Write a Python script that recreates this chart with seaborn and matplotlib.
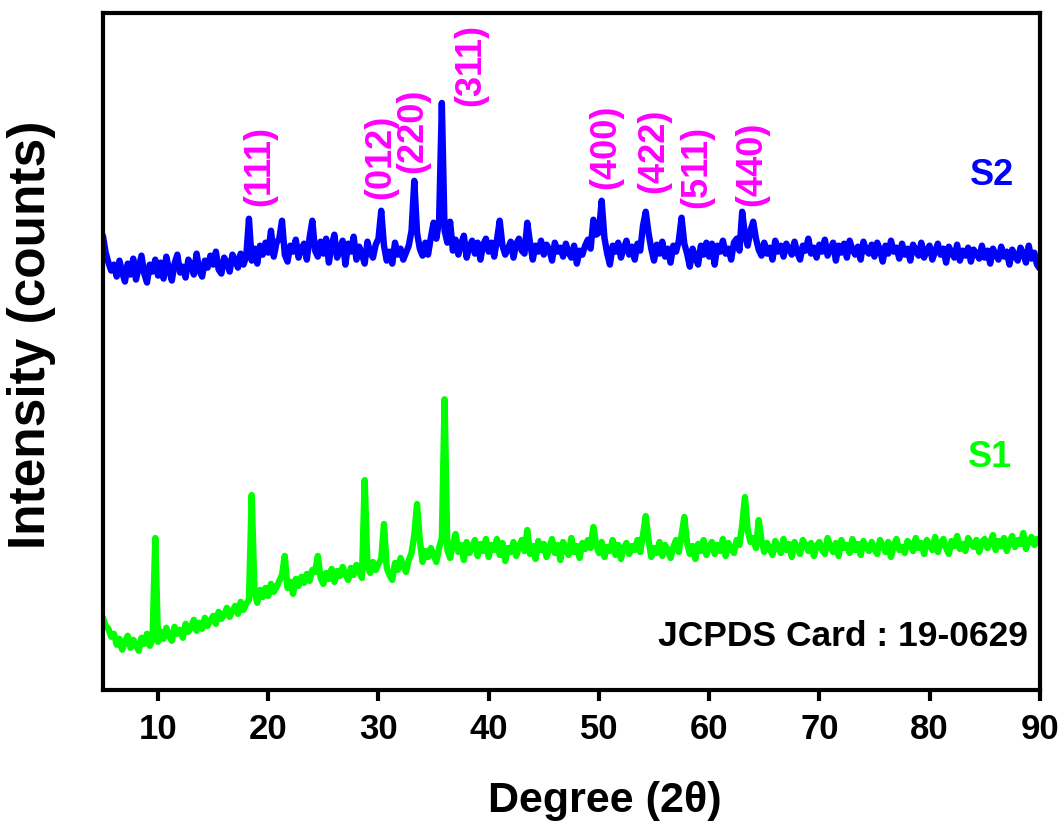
import numpy as np
import pandas as pd
import matplotlib
matplotlib.use("Agg")
import matplotlib.pyplot as plt
import seaborn as sns

# 2-theta scan, 0.25 degree steps from 5 to 90
two_theta = np.arange(5.0, 90.0 + 0.125, 0.25)

# S2 counts, one row per 5 degrees
s2_counts = [
    465, 448, 438, 430, 436, 424, 440, 428, 419, 437, 426, 442, 421, 433, 445, 427, 418, 436, 429, 441,
    425, 438, 422, 444, 431, 420, 437, 446, 428, 434, 423, 441, 436, 426, 447, 430, 424, 440, 433, 445,
    436, 449, 431, 427, 443, 438, 429, 446, 441, 433, 447, 436, 444, 482, 440, 452, 437, 455, 446, 458,
    448, 470, 444, 458, 462, 480, 446, 439, 455, 449, 461, 443, 452, 457, 441, 463, 480, 450, 444, 459,
    447, 462, 438, 455, 466, 443, 451, 460, 436, 457, 449, 464, 441, 454, 446, 437, 459, 448, 443, 456,
    462, 490, 455, 440, 449, 437, 458, 446, 452, 441, 448, 455, 470, 520, 468, 452, 445, 458, 446, 463,
    478, 462, 480, 598, 470, 458, 479, 450, 461, 446, 457, 465, 443, 454, 460, 447, 458, 441, 456, 462,
    449, 458, 444, 461, 480, 455, 446, 452, 459, 443, 457, 462, 450, 447, 478, 458, 441, 455, 449, 460,
    446, 456, 451, 440, 458, 449, 453, 444, 457, 448, 443, 455, 437, 450, 446, 455, 461, 452, 481, 466,
    468, 500, 463, 447, 436, 455, 449, 458, 443, 452, 460, 446, 454, 441, 457, 450, 475, 489, 468, 452,
    440, 456, 447, 459, 444, 452, 438, 455, 449, 460, 483, 457, 447, 434, 452, 443, 436, 455, 446, 458,
    444, 457, 436, 455, 449, 460, 447, 452, 441, 458, 462, 450, 489, 466, 455, 470, 479, 462, 451, 445,
    458, 447, 453, 441, 460, 449, 455, 444, 457, 452, 446, 459, 448, 441, 455, 450, 462, 447, 453, 443,
    456, 449, 461, 445, 452, 458, 440, 455, 448, 457, 443, 460, 451, 446, 454, 441, 459, 450, 447, 456,
    444, 458, 451, 439, 455, 447, 460, 449, 453, 442, 457, 446, 452, 440, 456, 450, 445, 458, 443, 451,
    455, 441, 449, 457, 446, 452, 438, 454, 448, 443, 456, 440, 450, 445, 453, 439, 451, 447, 442, 455,
    443, 450, 437, 452, 446, 441, 454, 444, 449, 436, 451, 445, 440, 453, 447, 438, 455, 442, 448, 436,
    432,
]

# S1 counts, one row per 5 degrees
s1_counts = [
    82, 74, 71, 63, 66, 55, 61, 50, 58, 64, 52, 60, 55, 49, 62, 56, 66, 54, 60, 162,
    58, 68, 61, 72, 64, 59, 73, 66, 70, 62, 76, 68, 73, 80, 69, 77, 71, 82, 74, 79,
    84, 76, 88, 81, 85, 92, 83, 89, 94, 86, 98, 90, 96, 100, 205, 108, 97, 110, 103, 112,
    104, 116, 108, 113, 119, 125, 144, 112, 118, 106, 121, 114, 123, 117, 126, 119, 130, 128, 144, 122,
    116, 127, 121, 131, 118, 129, 124, 133, 126, 120, 132, 125, 135, 128, 122, 220, 134, 127, 138, 130,
    136, 141, 176, 132, 125, 120, 137, 130, 142, 134, 128, 140, 147, 165, 196, 160, 138, 149, 143, 152,
    145, 138, 152, 162, 301, 150, 142, 156, 166, 148, 155, 140, 158, 147, 153, 160, 144, 156, 149, 161,
    143, 155, 150, 161, 145, 157, 139, 152, 148, 158, 144, 153, 160, 149, 170, 146, 154, 141, 159, 150,
    156, 143, 152, 161, 147, 155, 140, 158, 150, 145, 162, 148, 154, 142, 157, 151, 160, 152, 173, 155,
    147, 158, 143, 153, 149, 160, 145, 155, 141, 152, 157, 146, 154, 150, 160, 148, 165, 184, 160, 143,
    152, 147, 158, 144, 155, 150, 142, 153, 160, 148, 165, 183, 157, 146, 154, 141, 156, 149, 160, 145,
    153, 158, 146, 155, 149, 161, 144, 157, 151, 147, 160, 155, 175, 203, 170, 158, 162, 152, 180, 160,
    148, 157, 151, 145, 159, 153, 147, 161, 150, 156, 143, 158, 152, 146, 160, 155, 149, 157, 144, 154,
    158, 150, 146, 162, 153, 148, 157, 144, 160, 152, 155, 147, 161, 150, 156, 145, 159, 153, 149, 158,
    151, 146, 160, 154, 148, 158, 143, 155, 161, 150, 153, 147, 159, 156, 149, 162, 152, 157, 146, 160,
    155, 150, 163, 148, 157, 161, 152, 146, 159, 154, 164, 151, 156, 149, 162, 157, 153, 160, 148, 158,
    161, 152, 157, 165, 150, 159, 154, 162, 149, 158, 164, 153, 160, 156, 167, 151, 159, 163, 155, 161,
    156,
]

# (hkl) reflections marked above S2
hkl_labels = ["(111)", "(012)", "(220)", "(311)", "(400)", "(422)", "(511)", "(440)"]
hkl_pos = [19.2, 30.2, 33.1, 38.4, 50.6, 55.0, 58.9, 63.9]
hkl_base = [495, 502, 528, 595, 512, 508, 493, 495]

sample_colors = {"S2": "#0000FF", "S1": "#00FF00"}

sns.set_style("ticks")
plt.rcParams["font.family"] = ["Liberation Sans", "DejaVu Sans"]
plt.rcParams["font.weight"] = "bold"
plt.rcParams["text.color"] = "black"
plt.rcParams["axes.labelcolor"] = "black"
plt.rcParams["xtick.color"] = "black"

df = pd.DataFrame({
    "two_theta": np.concatenate([two_theta, two_theta]),
    "counts": s2_counts + s1_counts,
    "sample": ["S2"] * len(two_theta) + ["S1"] * len(two_theta),
})

fig, ax = plt.subplots(figsize=(10.61, 8.23), dpi=100)
fig.subplots_adjust(left=0.097, right=0.980, top=0.984, bottom=0.162)

sns.lineplot(data=df, x="two_theta", y="counts", hue="sample",
             palette=sample_colors, linewidth=4.6, errorbar=None,
             legend=False, ax=ax)

for lab, xp, yb in zip(hkl_labels, hkl_pos, hkl_base):
    ax.text(xp, yb, lab, rotation=90, ha="center", va="bottom",
            color="#FF00FF", fontsize=26, fontweight="bold")

ax.text(85.7, 525, "S2", color=sample_colors["S2"], fontsize=26,
        fontweight="bold", ha="center", va="center")
ax.text(85.5, 243, "S1", color=sample_colors["S1"], fontsize=26,
        fontweight="bold", ha="center", va="center")
ax.text(88.9, 63, "JCPDS Card : 19-0629", color="black", fontsize=25.5,
        fontweight="bold", ha="right", va="center")

ax.set_xlim(5, 90)
ax.set_ylim(10, 688)
ax.set_xticks(range(10, 91, 10))
ax.set_yticks([])

for sp in ax.spines.values():
    sp.set_linewidth(3)
    sp.set_color("black")

ax.tick_params(axis="x", direction="out", length=8, width=3,
               labelsize=25, pad=9, colors="black")

ax.set_xlabel("Degree (2θ)", fontsize=31, fontweight="bold")
ax.set_ylabel("Intensity (counts)", fontsize=37, fontweight="bold")
ax.xaxis.set_label_coords(0.536, -0.135)
ax.yaxis.set_label_coords(-0.05, 0.524)

fig.savefig("out.png", dpi=100)
